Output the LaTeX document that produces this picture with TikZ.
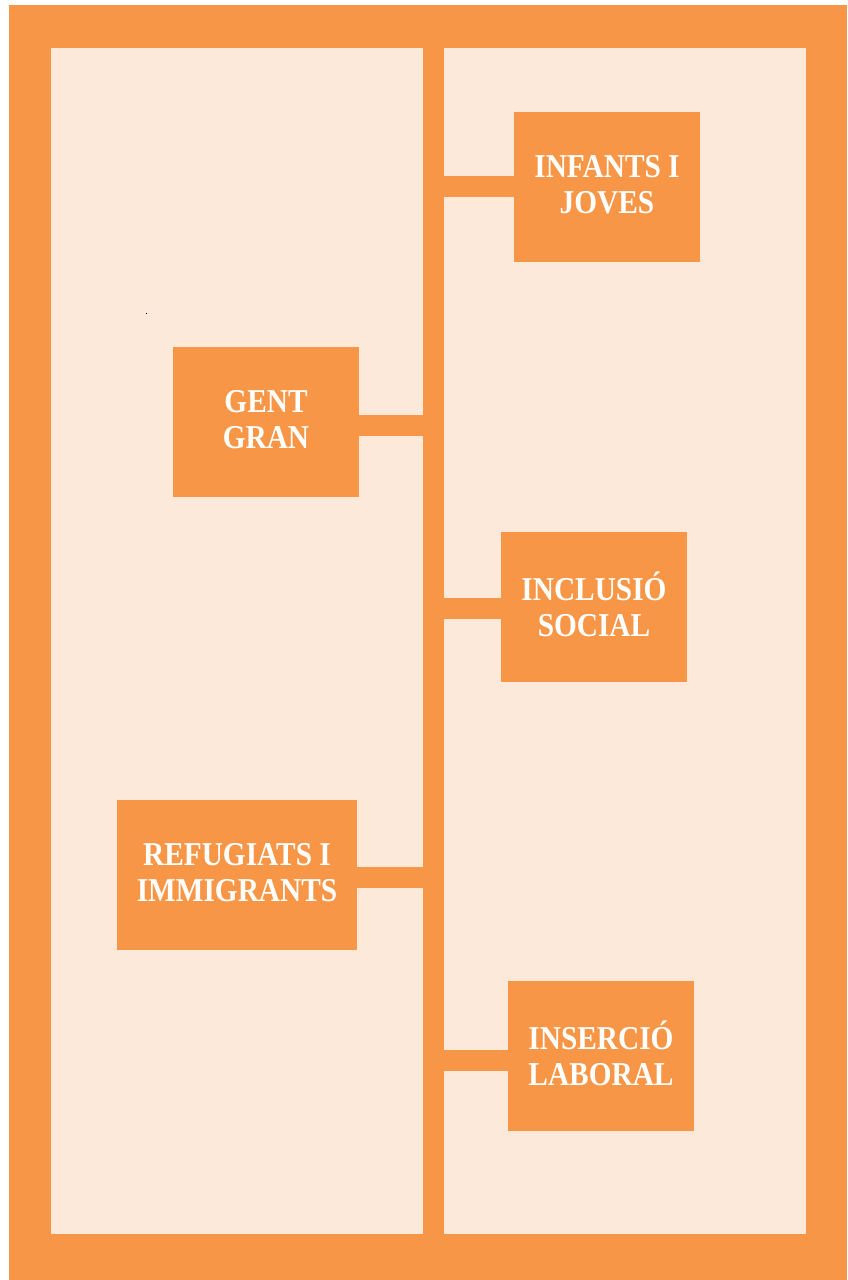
\documentclass[tikz,border=0pt]{standalone}
\usepackage{fontspec}
\setmainfont{Liberation Serif}
\newfontfamily\boxfont[FakeStretch=0.88]{Liberation Serif Bold}
\definecolor{frameorange}{HTML}{F79646}
\definecolor{panelcream}{HTML}{FDE9D9}

\begin{document}
\begin{tikzpicture}[x=0.75pt, y=-0.75pt,
	groupbox/.style={fill=frameorange, text=white, font=\boxfont\fontsize{25}{27}\selectfont,
		align=center, inner sep=0pt, outer sep=0pt, anchor=north west,
		minimum width=139.5pt, minimum height=112.5pt},
	branch/.style={draw=frameorange, line width=15.75pt}]
		%%%%% START %%%%%
		
		\fill[white] (0, 0) rectangle (847, 1280);
		\fill[frameorange] (9, 5) rectangle (847, 1280);
		\fill[panelcream] (51, 48) rectangle (806, 1234);
		
		% spine
		\coordinate (spinetop) at (433.5, 48);
		\coordinate (spinebot) at (433.5, 1234);
		\draw[branch] (spinetop) -- (spinebot);
		
		\coordinate (j1) at (433.5, 186.5);
		\coordinate (j2) at (433.5, 425.5);
		\coordinate (j3) at (433.5, 608.5);
		\coordinate (j4) at (433.5, 877.5);
		\coordinate (j5) at (433.5, 1060.5);
		
		\node[groupbox] (infants) at (514, 112) {INFANTS I\\JOVES\vphantom{Q}};
		\node[groupbox] (gent) at (173, 347) {GENT\\GRAN\vphantom{Q}};
		\node[groupbox] (inclusio) at (501, 532) {INCLUSIÓ\\SOCIAL\vphantom{Q}};
		\node[groupbox, minimum width=180pt] (refugiats) at (117, 800) {REFUGIATS I\\IMMIGRANTS\vphantom{Q}};
		\node[groupbox] (insercio) at (508, 981) {INSERCIÓ\\LABORAL\vphantom{Q}};
		
		\draw[branch] (j1) -- (j1 -| infants.west);
		\draw[branch] (j2) -- (j2 -| gent.east);
		\draw[branch] (j3) -- (j3 -| inclusio.west);
		\draw[branch] (j4) -- (j4 -| refugiats.east);
		\draw[branch] (j5) -- (j5 -| insercio.west);
		
		\fill[black] (145.5, 312.5) rectangle (146.5, 314);
		
		%%%%% END %%%%%
\end{tikzpicture}
\end{document}
